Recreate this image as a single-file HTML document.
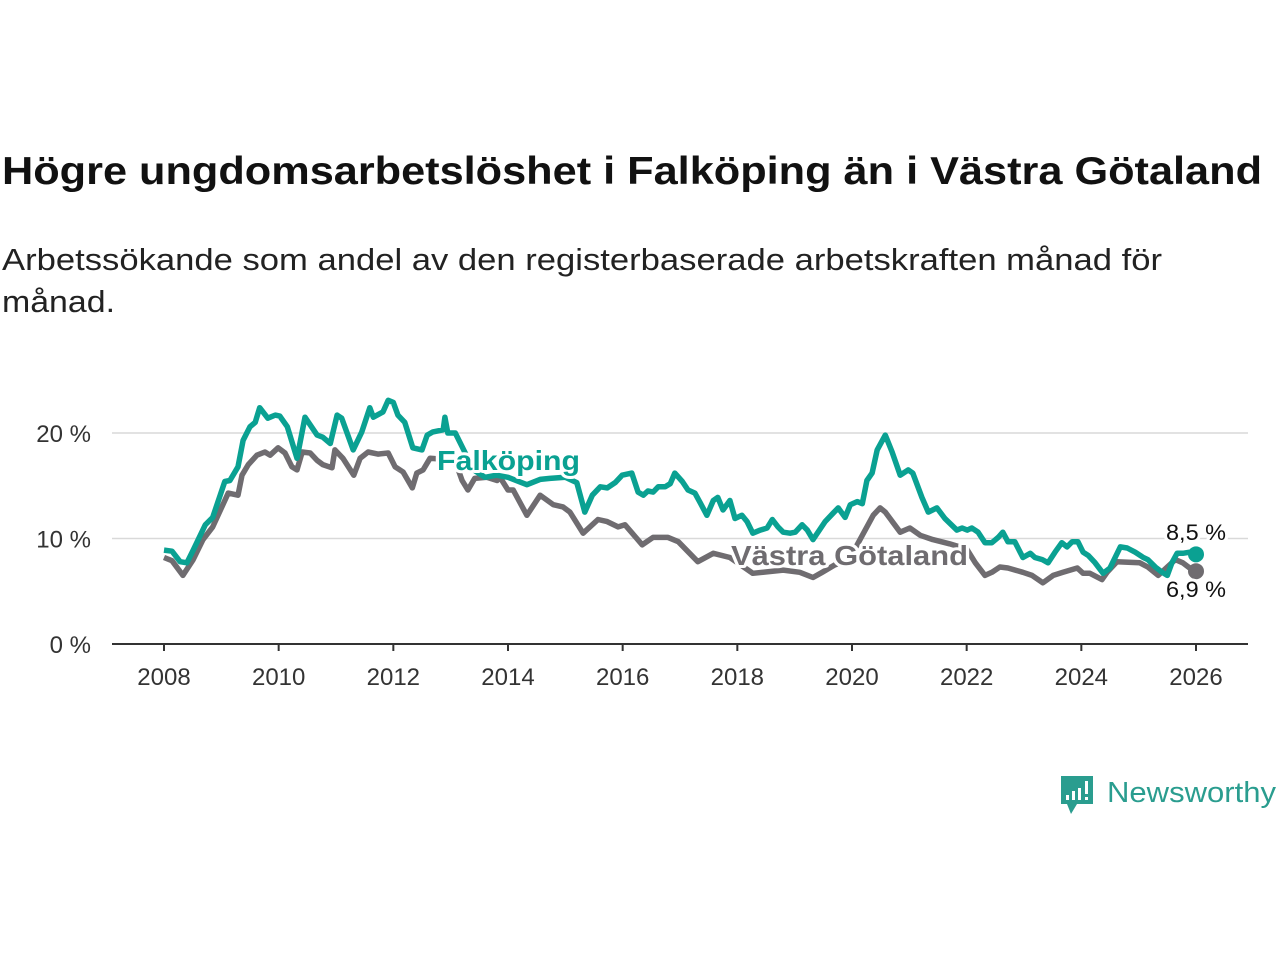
<!DOCTYPE html>
<html><head><meta charset="utf-8"><style>
body{margin:0;background:#fff;width:1280px;height:960px;overflow:hidden;font-family:"Liberation Sans",sans-serif}
svg{position:absolute;left:0;top:0}
</style></head><body>
<svg width="1280" height="960">
<text x="2" y="184" font-size="39" font-weight="bold" fill="#111" textLength="1260" lengthAdjust="spacingAndGlyphs">Högre ungdomsarbetslöshet i Falköping än i Västra Götaland</text>
<text x="2" y="270" font-size="31" fill="#222" textLength="1160" lengthAdjust="spacingAndGlyphs">Arbetssökande som andel av den registerbaserade arbetskraften månad för</text>
<text x="2" y="312" font-size="31" fill="#222" textLength="113" lengthAdjust="spacingAndGlyphs">månad.</text>
<g id="grid"></g><g id="lines"></g><g id="labels"></g>
<g>
<path d="M1061 776 h32 v28 h-16 l-6 10 l-4-10 h-6 z" fill="#2a9d8f"/>
<rect x="1066" y="795" width="3" height="5" fill="#fff"/><rect x="1072" y="791" width="3" height="9" fill="#fff"/><rect x="1078" y="788" width="3" height="12" fill="#fff"/><rect x="1085" y="781" width="3" height="13" fill="#fff"/><rect x="1085" y="797" width="3" height="3" fill="#fff"/>
<text x="1107" y="802" font-size="29" fill="#2a9d8f" textLength="169" lengthAdjust="spacingAndGlyphs">Newsworthy</text>
</g>
</svg>
<script>
const yTicks=[0,10,20];
const xTicks=[2008,2010,2012,2014,2016,2018,2020,2022,2024,2026];
const falkDates=[2008.0,2008.14,2008.28,2008.40,2008.51,2008.72,2008.85,2009.06,2009.15,2009.29,2009.38,2009.50,2009.59,2009.67,2009.81,2009.94,2010.02,2010.15,2010.32,2010.46,2010.67,2010.77,2010.90,2011.02,2011.10,2011.30,2011.45,2011.59,2011.65,2011.82,2011.91,2012.0,2012.08,2012.20,2012.34,2012.50,2012.59,2012.69,2012.87,2012.90,2012.95,2013.08,2013.20,2013.4,2013.6,2013.8,2014.0,2014.33,2014.56,2014.73,2015.0,2015.20,2015.34,2015.47,2015.61,2015.73,2015.87,2015.99,2016.16,2016.27,2016.36,2016.44,2016.53,2016.62,2016.74,2016.83,2016.91,2017.04,2017.14,2017.26,2017.35,2017.47,2017.58,2017.66,2017.75,2017.87,2017.96,2018.08,2018.17,2018.27,2018.40,2018.52,2018.61,2018.71,2018.80,2018.92,2019.01,2019.13,2019.22,2019.32,2019.53,2019.67,2019.76,2019.88,2019.97,2020.09,2020.18,2020.26,2020.35,2020.44,2020.58,2020.70,2020.84,2020.98,2021.06,2021.22,2021.33,2021.48,2021.62,2021.83,2021.92,2022.01,2022.09,2022.20,2022.32,2022.44,2022.55,2022.63,2022.72,2022.84,2022.98,2023.11,2023.19,2023.32,2023.42,2023.54,2023.66,2023.75,2023.84,2023.94,2024.03,2024.12,2024.24,2024.38,2024.50,2024.68,2024.80,2024.94,2025.08,2025.16,2025.29,2025.41,2025.50,2025.58,2025.67,2025.77,2025.89,2026.0];
const falkValues=[8.9,8.8,7.8,7.7,8.9,11.3,12,15.4,15.5,16.8,19.3,20.6,21,22.4,21.4,21.7,21.6,20.6,17.6,21.5,19.8,19.6,19,21.7,21.4,18.4,20.1,22.4,21.5,22,23.1,22.9,21.7,21,18.6,18.4,19.8,20.1,20.3,21.5,20,20,18.7,16.5,15.8,16,15.8,15.1,15.6,15.7,15.8,15.3,12.5,14.1,14.9,14.8,15.3,16,16.2,14.4,14.1,14.5,14.4,14.9,14.9,15.2,16.2,15.4,14.6,14.3,13.4,12.2,13.6,13.9,12.7,13.6,11.9,12.2,11.6,10.5,10.8,11,11.8,11.1,10.6,10.5,10.6,11.3,10.8,9.9,11.6,12.4,12.9,12,13.2,13.5,13.3,15.5,16.2,18.4,19.8,18.2,16,16.5,16.2,13.9,12.5,12.9,11.9,10.8,11,10.8,11,10.6,9.6,9.6,10.1,10.6,9.7,9.7,8.2,8.6,8.2,8,7.7,8.7,9.6,9.2,9.7,9.7,8.7,8.4,7.7,6.7,7.2,9.2,9.1,8.7,8.2,8,7.3,6.8,6.5,7.7,8.6,8.6,8.7,8.5];
const vgDates=[2008.0,2008.14,2008.33,2008.51,2008.68,2008.85,2009.12,2009.29,2009.36,2009.47,2009.62,2009.76,2009.85,2009.99,2010.11,2010.23,2010.32,2010.41,2010.55,2010.67,2010.77,2010.93,2010.98,2011.12,2011.31,2011.42,2011.56,2011.73,2011.91,2012.03,2012.17,2012.33,2012.41,2012.52,2012.64,2012.9,2013.1,2013.2,2013.30,2013.42,2013.63,2013.81,2013.86,2014.0,2014.09,2014.33,2014.56,2014.79,2014.96,2015.08,2015.31,2015.57,2015.73,2015.92,2016.04,2016.34,2016.53,2016.79,2016.97,2017.31,2017.58,2017.87,2018.27,2018.80,2019.09,2019.32,2019.48,2019.7,2019.95,2020.1,2020.37,2020.49,2020.58,2020.84,2021.01,2021.19,2021.41,2021.7,2022.0,2022.15,2022.32,2022.44,2022.58,2022.72,2022.98,2023.14,2023.33,2023.51,2023.68,2023.93,2024.03,2024.15,2024.36,2024.45,2024.62,2025.02,2025.16,2025.34,2025.50,2025.64,2025.77,2025.89,2026.0];
const vgValues=[8.2,7.9,6.5,8,9.9,11.1,14.3,14.1,16,17,17.9,18.2,17.9,18.6,18.1,16.8,16.5,18.2,18.1,17.4,17,16.7,18.4,17.6,16,17.6,18.2,18,18.1,16.8,16.3,14.8,16.2,16.5,17.6,17.5,17,15.5,14.6,15.7,15.8,15.5,15.8,14.6,14.6,12.2,14.1,13.2,13,12.5,10.5,11.8,11.6,11.1,11.3,9.4,10.1,10.1,9.7,7.8,8.6,8.2,6.7,7,6.8,6.3,6.8,7.5,8,9.5,12.2,12.9,12.5,10.6,11,10.3,9.9,9.5,9,7.7,6.5,6.8,7.3,7.2,6.8,6.5,5.8,6.5,6.8,7.2,6.7,6.7,6.1,6.8,7.8,7.7,7.3,6.5,7.3,8,7.7,7.2,6.9];
const NS='http://www.w3.org/2000/svg';
const X=d=>164+(d-2008)*(1032/18);
const Y=v=>644-v*10.55;
function mk(t,a,p){const e=document.createElementNS(NS,t);for(const k in a)e.setAttribute(k,a[k]);p.appendChild(e);return e;}
const grid=document.getElementById('grid'),lines=document.getElementById('lines'),labels=document.getElementById('labels');
yTicks.forEach(v=>{
  if(v>0){const g=mk('line',{x1:112,x2:1248,y1:Y(v),y2:Y(v),stroke:'#d9d9d9','stroke-width':1.5},grid);
  
  }
  const t=mk('text',{x:91,y:Y(v)+9,'text-anchor':'end','font-size':24,fill:'#333'},grid);t.textContent=v+' %';
  
  
});
const ax=mk('line',{x1:112,x2:1248,y1:644,y2:644,stroke:'#333','stroke-width':2},grid);


xTicks.forEach(y=>{
  const tk=mk('line',{x1:X(y),x2:X(y),y1:644,y2:651,stroke:'#333','stroke-width':2},grid);
  
  
  const t=mk('text',{x:X(y),y:685,'text-anchor':'middle','font-size':24,fill:'#333'},grid);t.textContent=y;
  
  
});
function path(ds,vs){return ds.map((d,i)=>(i?'L':'M')+X(d).toFixed(1)+' '+Y(vs[i]).toFixed(1)).join(' ');}
const pv=mk('path',{d:path(vgDates,vgValues),fill:'none',stroke:'#6f6c70','stroke-width':5.5,'stroke-linejoin':'round'},lines);


const pf=mk('path',{d:path(falkDates,falkValues),fill:'none',stroke:'#0aa192','stroke-width':5.5,'stroke-linejoin':'round'},lines);


const dv=mk('circle',{cx:X(2026),cy:Y(vgValues[vgValues.length-1]),r:8,fill:'#6f6c70'},lines);


const df=mk('circle',{cx:X(2026),cy:Y(falkValues[falkValues.length-1]),r:8,fill:'#0aa192'},lines);


function lbl(txt,x,y,fill,size,bold,name,halo,len){
  const t=mk('text',{x:x,y:y,'font-size':size,fill:fill,'font-weight':bold?'bold':'normal'},labels);
  if(halo){t.setAttribute('stroke','#fff');t.setAttribute('stroke-width',6);t.setAttribute('paint-order','stroke');t.setAttribute('stroke-linejoin','round');}
  if(len){t.setAttribute('textLength',len);t.setAttribute('lengthAdjust','spacingAndGlyphs');}
  t.textContent=txt;
  
  
}
lbl('Falköping',437,470,'#0aa192',28,true,'series-label-falkoping',true,143);
lbl('Västra Götaland',731,565,'#6f6c70',28,true,'series-label-vastra-gotaland',true,237);
lbl('8,5 %',1166,540,'#111',22,false,'end-value-falkoping',true,60);
lbl('6,9 %',1166,597,'#111',22,false,'end-value-vastra-gotaland',true,60);
</script>
</body></html>
